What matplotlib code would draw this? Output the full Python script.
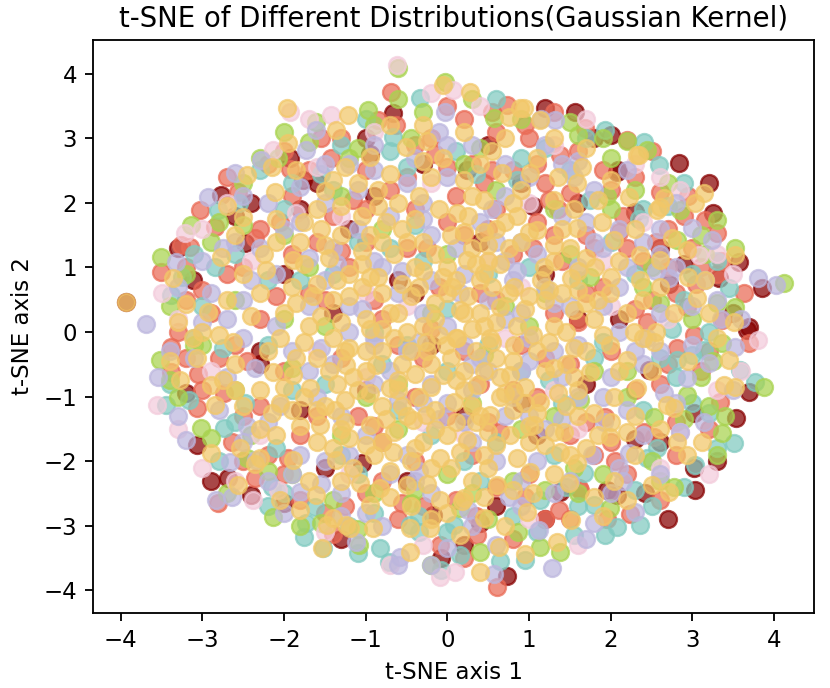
import numpy as np
import matplotlib
matplotlib.use("Agg")
import matplotlib.pyplot as plt

# point positions (t-SNE coordinates), one list per distribution
darkred_pts = [(-0.66, 3.39), (-1.93, 2.69), (-2.77, 2.12), (-2.48, 1.38), (-3.11, 0.80), (-3.93, 0.46),
               (1.19, 3.46), (1.56, 3.40), (2.00, 3.05), (2.84, 2.61), (2.08, 2.47), (3.20, 2.30),
               (2.30, 1.85), (3.25, 1.84), (3.57, 1.08), (3.85, 0.68), (3.33, 0.83), (3.69, 0.07),
               (2.72, 0.75), (-3.07, -1.75), (-2.69, -2.26), (-2.40, -2.53), (-0.08, -3.50), (-0.18, -2.84),
               (0.73, -3.77), (1.38, -2.48), (1.95, -2.45), (2.08, -2.53), (2.42, -2.49), (3.03, -2.45),
               (3.02, -2.11), (3.54, -1.33), (3.02, -1.26), (3.69, -0.93), (3.67, 0.03), (2.47, -0.59),
               (-1.6, 2.3), (-0.9, 2.1), (-1.2, 1.6), (-0.3, 2.6), (0.5, 2.9), (0.9, 2.3), (1.6, 2.0),
               (-2.0, 0.9), (-1.4, 0.3), (-0.6, 0.8), (0.4, 1.4), (1.2, 0.9), (2.1, 0.2), (-2.3, -0.5),
               (-1.0, -0.9), (0.2, -1.3), (1.1, -1.6), (-1.5, -2.1), (-0.5, -2.3), (0.6, -2.7), (2.6, -1.7),
               (-2.6, 1.8), (-0.2, -0.2), (1.7, -0.8), (-1.8, -1.2), (0.24, 2.5), (-1.77, 2.35), (2.09, 2.5),
               (-1.05, -2.03), (-1.0, 3.0), (1.8, 3.0), (2.6, 1.3), (3.5, 0.3), (-3.3, 1.3), (-2.3, -0.3),
               (1.2, -2.9), (2.7, -2.9), (-2.9, -2.3), (-1.3, -3.2), (0.2, -3.3), (3.3, -2.0), (-0.4, 0.6),
               (0.9, -1.1), (-1.8, 1.9), (1.6, 0.2), (2.9, 1.05), (-2.4, 2.0), (-3.2, -0.95), (-2.0, -2.65),
               (0.4, -2.95), (2.3, -1.65), (-0.95, 2.75), (1.05, 1.95)]

salmon_pts = [(-0.69, 3.71), (-0.85, 3.28), (-0.63, 3.20), (-1.43, 2.69), (-1.93, 2.53), (-2.57, 2.17),
              (-3.03, 1.89), (-2.85, 1.62), (-3.26, 1.34), (-3.15, 1.32), (-3.51, 0.93), (0.73, 3.51),
              (1.68, 3.16), (2.20, 2.97), (1.38, 2.74), (2.60, 2.17), (3.15, 1.73), (3.30, 1.53),
              (3.63, 0.60), (3.36, 0.18), (2.93, 0.38), (-3.39, -0.23), (-3.39, -0.62), (-3.07, -1.17),
              (-2.74, -0.95), (-2.64, -1.70), (-2.36, -2.26), (-2.81, -2.65), (-1.40, -3.12), (-0.09, -3.30),
              (0.61, -3.95), (0.36, -3.15), (1.37, -2.76), (1.63, -2.45), (2.24, -2.81), (1.61, -2.42),
              (3.34, -1.09), (3.70, -0.17), (3.02, -0.05), (2.81, -0.25), (2.53, -1.63), (2.41, -1.55),
              (1.93, -1.32), (-0.2, 3.0), (0.2, 3.3), (0.6, 3.1), (1.0, 3.0), (1.6, 2.8), (1.9, 2.5),
              (2.3, 2.4), (0.3, 2.6), (0.8, 2.5), (1.2, 2.3), (-0.5, 2.4), (-1.0, 2.5), (-1.9, 2.1),
              (-2.3, 1.6), (-1.6, 1.4), (-1.0, 1.9), (-0.4, 1.9), (0.1, 2.1), (0.6, 1.9), (1.1, 1.7),
              (1.7, 1.5), (2.2, 1.3), (2.7, 1.0), (3.0, 1.3), (2.5, 0.5), (1.9, 0.7), (1.4, 1.1),
              (0.8, 1.2), (0.2, 1.5), (-0.5, 1.3), (-1.2, 1.0), (-1.9, 1.2), (-2.7, 0.9), (-2.9, 0.3),
              (-2.3, 0.2), (-1.7, 0.6), (-0.9, 0.5), (-0.1, 0.7), (0.6, 0.5), (1.3, 0.3), (2.0, -0.3),
              (2.6, -0.8), (3.1, -0.6), (1.5, -0.5), (0.9, -0.2), (0.2, -0.3), (-0.6, -0.2), (-1.3, -0.4),
              (-2.0, -0.6), (-2.8, -0.4), (-2.5, -1.3), (-1.8, -1.6), (-1.1, -1.3), (-0.4, -1.0),
              (0.4, -0.8), (1.1, -1.0), (1.8, -1.9), (2.2, -2.2), (1.0, -2.2), (0.3, -1.9), (-0.4, -2.0),
              (-1.0, -2.5), (-1.8, -2.6), (-0.6, -2.9), (0.1, -2.6), (0.8, -3.2), (2.8, -1.4), (3.3, 0.9),
              (-2.2, 2.6), (-1.3, 3.0), (2.9, 1.8), (-3.0, -0.9), (0.5, -1.4), (-0.8, -1.7), (1.5, -2.9),
              (0.0, 3.5), (1.3, 3.4), (-0.4, 2.9), (1.1, 2.6), (0.45, 2.3), (1.5, 2.15), (2.5, 2.8),
              (2.7, 1.6), (-2.0, 2.8), (-2.7, 2.4), (-2.5, 1.0), (-1.4, 1.8), (0.0, 1.7), (1.3, 1.5),
              (2.4, 1.1), (3.1, 1.0), (-3.2, 0.5), (-1.5, 0.5), (0.4, 0.6), (1.7, 0.6), (2.8, 0.6),
              (-2.6, -0.2), (-0.3, -0.4), (1.2, -0.4), (2.3, -0.9), (3.2, -1.5), (-3.2, -0.4), (-1.6, -1.3),
              (0.0, -1.3), (1.5, -1.6), (2.0, -1.7), (-2.2, -1.9), (-0.8, -2.3), (0.6, -2.4), (1.2, -2.9),
              (2.6, -2.6), (-1.5, -2.8), (0.2, -3.5), (-0.3, -2.7), (-2.0, -2.2), (-3.2, 1.0), (-0.8, 0.2),
              (0.8, -0.9), (1.8, 1.3), (-1.0, 1.4), (0.5, 1.6), (2.0, 2.2), (-1.7, 2.5),
              (-0.7, 2.2), (0.0, 2.55), (0.55, 2.5), (1.35, 1.9), (2.15, 1.8), (2.55, 1.4), (-2.05, 1.7),
              (-1.3, 1.25), (-0.25, 1.3), (1.05, 1.3), (3.35, 1.1), (-3.0, 0.65), (-2.1, 0.55), (-0.2, 0.05),
              (1.6, 0.15), (2.3, 0.35), (3.2, -0.3), (-2.3, -1.15), (-0.9, -1.45), (0.65, -1.55), (1.7, -1.4),
              (2.8, -1.9), (-2.5, -2.0), (-1.25, -2.7), (0.35, -2.85), (1.95, -2.9), (-3.3, 0.0), (2.95, 2.1),
              (0.95, 3.2), (-1.55, 3.0), (2.45, 0.15), (2.1, 1.55), (1.25, 2.05), (-0.15, 2.75),
              (-1.15, 2.05), (-2.35, 1.45), (-2.45, -0.45), (-1.95, -1.95), (-0.55, -2.65), (0.95, -2.55),
              (2.05, -2.0), (2.7, -0.5), (3.05, 0.75), (-3.05, -0.65), (0.55, 3.4)]

teal_pts = [(-1.30, 2.89), (-2.81, 1.89), (-3.38, 0.57), (1.93, 3.12), (2.41, 2.94), (2.59, 2.58),
            (3.45, 0.68), (-3.45, -1.13), (-3.17, -1.05), (-2.48, -1.10), (-2.74, -1.49), (-1.73, -2.96),
            (-1.75, -3.18), (-1.52, -3.34), (-0.82, -3.35), (-0.72, -3.56), (-0.08, -3.69), (-1.09, -3.42),
            (-0.46, -2.99), (-1.62, -2.71), (0.95, -3.53), (1.55, -3.15), (1.93, -3.15), (2.08, -3.02),
            (2.36, -2.99), (1.80, -2.68), (3.03, -2.06), (3.51, -1.72), (3.77, -0.78), (3.58, -0.59),
            (3.14, -0.28), (2.81, -0.43), (2.57, -1.80), (1.67, -2.19), (1.13, -2.60), (0.16, -3.45),
            (0.08, -2.99), (-0.34, 3.62), (-0.67, 3.02), (-2.0, 1.9), (-1.4, 2.2), (-0.7, 2.8), (0.1, 2.8),
            (0.9, 2.7), (1.5, 2.5), (2.4, 1.9), (-2.6, 1.2), (-1.8, 0.8), (-1.1, 1.4), (-0.3, 1.1),
            (0.5, 0.9), (1.6, 0.8), (2.3, 0.9), (2.9, 0.5), (-3.1, -0.1), (-2.2, -0.2), (-1.5, -0.8),
            (-0.8, -0.5), (0.0, -0.6), (0.9, -0.6), (1.8, -0.4), (2.4, -1.2), (-2.1, -1.8), (-1.3, -1.9),
            (-0.2, -1.6), (0.6, -1.7), (1.3, -1.9), (-0.9, -2.8), (0.4, -2.3), (2.9, -2.4),
            (-2.3, 2.5), (-1.0, 3.3), (0.6, 3.6), (1.7, 3.0), (2.9, 2.3), (3.3, 1.1), (-3.1, 1.2),
            (-2.2, 0.8), (-0.7, 1.3), (1.0, 1.0), (2.0, 1.4), (3.2, 0.0), (-3.4, -0.8), (-1.9, -0.9),
            (-0.5, -0.2), (0.5, -0.2), (1.4, -1.1), (3.0, -1.1), (-2.8, -2.0), (-2.2, -2.7), (-1.2, -3.0),
            (0.0, -3.1), (1.1, -3.1), (2.5, -2.7), (3.3, -1.8), (-0.9, 0.0), (0.2, -2.0), (1.6, -2.7),
            (-0.6, -1.2), (2.6, -0.4), (-2.55, 2.0), (-1.55, 2.45), (0.35, 2.45), (1.2, 2.85), (2.7, 1.95),
            (3.0, 0.9), (-3.0, 0.4), (-1.4, 0.9), (0.0, 0.35), (1.9, -0.15), (2.8, -0.7), (-2.6, -1.4),
            (-1.1, -2.2), (0.8, -2.85), (2.3, -2.45), (-0.35, -3.1), (-2.0, -2.5), (3.2, -1.25),
            (1.25, -0.75), (-0.4, 1.65), (2.75, 0.05), (2.35, 1.75), (0.85, 2.35), (-0.5, 2.55),
            (-1.9, 2.3), (-2.85, 1.0), (-2.75, -0.25), (-2.15, -2.4), (-0.35, -2.85), (1.45, -2.4),
            (2.45, -1.95), (3.0, -0.35), (-3.25, 0.85), (0.65, -3.55), (1.75, 2.05)]

green_pts = [(-0.60, 4.08), (-0.97, 3.43), (-1.61, 3.25), (-1.70, 2.94), (-2.07, 2.69), (-3.14, 1.66),
             (-3.51, 1.16), (0.57, 3.31), (1.50, 3.25), (2.45, 2.82), (2.85, 1.89), (3.30, 1.73),
             (2.81, 1.42), (3.52, 1.30), (4.12, 0.76), (3.52, 0.38), (-3.52, -0.43), (-3.02, -1.49),
             (-2.90, -1.64), (-2.13, -2.87), (-1.08, -3.30), (-0.44, -2.65), (0.40, -3.41), (0.86, -3.10),
             (1.13, -3.33), (1.38, -3.41), (1.99, -2.73), (0.16, -2.73), (2.78, -2.40), (3.30, -1.91),
             (3.36, -1.57), (3.20, -1.14), (2.93, -0.98), (3.88, -0.85), (3.36, -0.17), (2.53, -1.32),
             (1.63, -1.05), (-0.03, 3.87), (-1.2, 2.7), (-0.3, 3.4), (0.9, 3.3), (2.0, 2.7), (-2.5, 2.3),
             (-2.0, 1.5), (-0.8, 1.6), (0.6, 2.2), (1.5, 1.2), (2.4, 0.7), (-2.6, 0.5), (-1.5, 0.1),
             (-0.2, 0.3), (1.0, 0.1), (2.2, -0.6), (-2.6, -0.9), (-1.9, -2.2), (-1.0, -1.0), (0.3, -1.1),
             (1.3, -1.3), (0.8, -2.3), (-0.6, -1.5), (-2.7, -2.5), (-1.4, -2.6), (2.0, 1.9), (3.0, 0.2),
             (-3.2, 0.9), (0.0, -2.2), (1.9, -2.2), (-2.0, 3.1), (-0.6, 3.6), (1.9, 3.0), (2.7, 2.3),
             (3.1, 1.5), (-2.9, 1.4), (-1.3, 2.1), (0.2, 2.6), (1.3, 1.9), (2.5, 1.0), (-3.4, 0.4),
             (-2.0, 0.2), (-0.6, -0.8), (0.7, 0.4), (1.8, -0.6), (3.1, -0.7), (-3.3, -1.0), (-2.4, -1.6),
             (-0.9, -2.5), (0.5, -2.9), (1.6, -2.5), (2.5, -2.0), (3.4, -1.3), (-1.8, -3.0), (-0.2, -3.6),
             (0.9, -1.5), (-1.3, -1.6), (1.2, 0.6), (-2.3, 2.7), (-0.9, 3.2), (0.3, 3.6), (1.6, 3.05),
             (2.3, 2.2), (3.15, 1.2), (-2.8, 1.7), (-1.7, 1.0), (0.0, 1.2), (1.75, 0.85), (3.3, 0.45),
             (-3.1, -0.2), (-1.9, -0.55), (0.45, -0.35), (2.2, -1.0), (-2.2, -2.15), (-0.4, -2.45),
             (1.2, -2.45), (2.6, -2.3), (-1.1, -3.05), (2.6, 0.45), (1.95, 2.1), (0.4, 2.85), (-1.1, 2.85),
             (-2.5, 1.65), (-3.0, -0.2), (-2.45, -1.95), (-1.55, -2.95), (0.3, -2.5), (1.55, -2.1),
             (2.9, -1.35), (3.25, -0.45), (-0.45, 3.0), (2.2, 2.95), (-3.4, -0.75)]

pink_pts = [(-0.62, 4.13), (-1.42, 3.36), (-1.93, 3.40), (2.85, 2.20), (-3.21, 1.53), (-3.56, -1.13),
            (-2.38, -2.60), (-2.07, -2.45), (-0.09, -3.79), (0.09, -3.72), (3.81, -0.12), (0.07, 3.74),
            (2.85, -1.55), (3.08, 1.19), (-2.13, 2.82), (-1.60, 2.55), (-1.85, 1.84), (-0.9, 3.1),
            (0.4, 3.5), (1.3, 2.9), (2.3, 2.6), (-2.4, 1.1), (-1.3, 1.8), (-0.2, 2.3), (1.0, 2.0),
            (1.9, 1.1), (2.7, 0.2), (-2.9, -0.6), (-1.6, -0.3), (-0.5, 0.4), (0.7, -0.1), (1.6, -1.5),
            (-2.3, -1.6), (-1.2, -2.2), (0.2, -1.6), (1.0, -2.9), (-0.3, -3.3), (2.6, -2.1), (3.3, -0.9),
            (-3.3, 0.2), (2.0, 0.4), (-1.0, -0.7), (0.5, 1.1), (3.3, 1.2), (-3.0, -2.1),
            (-1.7, 3.3), (-0.2, 3.7), (1.7, 3.3), (2.6, 2.4), (-2.7, 2.0), (-3.5, 0.6), (-3.0, 1.6),
            (2.4, 1.7), (3.5, 0.9), (3.6, -0.6), (3.2, -2.2), (1.6, -3.3), (-0.7, -3.6), (-1.5, -3.1),
            (-2.6, -2.3), (-3.3, -1.5), (-1.0, 0.6), (0.9, 0.7), (-0.3, -1.4), (1.3, -0.9)]

lavender_pts = [(-1.61, 3.12), (-1.73, 2.82), (-2.28, 2.66), (-2.60, 2.46), (-2.93, 2.09), (-3.32, 1.08),
                (-3.69, 0.13), (3.00, 1.61), (3.24, 1.42), (3.81, 0.83), (4.03, 0.73), (3.15, 0.80),
                (2.71, 0.83), (-3.54, -0.70), (-3.20, -1.67), (-2.66, -2.01), (-2.34, -1.98), (-2.83, -2.60),
                (-2.64, -2.56), (-0.58, -3.48), (-1.12, -3.25), (-1.80, -2.48), (0.57, -3.74), (1.28, -3.66),
                (1.12, -3.07), (2.30, -2.79), (1.80, -2.96), (3.14, -1.39), (3.20, -0.48), (3.52, -0.23),
                (2.93, -0.71), (2.22, -1.88), (1.92, -1.39), (1.77, -1.91), (-0.03, 3.40), (1.32, 3.28),
                (-1.5, 2.6), (-0.4, 2.7), (0.7, 2.6), (1.8, 2.2), (-2.2, 2.0), (-1.1, 2.2), (0.0, 2.4),
                (1.0, 2.4), (2.6, 1.6), (-1.8, 1.7), (-0.7, 1.8), (0.4, 1.7), (1.4, 1.8), (2.1, 1.6),
                (-2.6, 1.4), (-1.4, 1.3), (-0.2, 1.5), (0.9, 1.4), (1.9, 1.3), (2.6, 1.2), (-2.1, 0.9),
                (-0.9, 1.1), (0.2, 0.9), (1.2, 0.7), (2.2, 1.0), (-3.0, 1.1), (-2.9, 0.6), (-1.7, 0.4),
                (-0.6, 0.6), (0.5, 0.5), (1.5, 0.4), (2.6, 0.3), (3.3, 0.5), (-2.5, -0.1), (-1.2, 0.0),
                (0.0, 0.1), (1.0, -0.1), (2.1, 0.0), (3.0, -0.2), (-3.1, -0.4), (-1.9, -0.3), (-0.7, -0.6),
                (0.4, -0.4), (1.4, -0.7), (2.4, -0.5), (-2.8, -1.2), (-1.6, -1.0), (-0.3, -1.1), (0.8, -1.0),
                (1.9, -1.0), (2.8, -1.1), (-2.2, -1.4), (-1.0, -1.6), (0.2, -1.4), (1.2, -1.5), (2.4, -1.6),
                (-1.5, -2.0), (-0.5, -1.9), (0.6, -2.0), (1.5, -2.3), (-2.2, -2.3), (-1.3, -2.5),
                (-0.2, -2.5), (0.9, -2.7), (2.0, -2.5), (-0.8, -3.0), (0.3, -3.0), (-0.3, 0.3), (0.3, -0.9),
                (0.7, 1.1), (-0.9, -0.2), (1.6, -0.2), (-1.5, 0.8), (0.9, 0.3), (-0.4, -2.3), (1.1, -2.0),
                (-2.4, 0.8), (2.8, 2.0), (-3.4, -0.3), (-1.2, 2.6), (-0.9, 2.9), (0.3, 2.9), (1.4, 2.6),
                (2.2, 2.5), (-2.5, 2.1), (-1.5, 2.0), (-0.3, 2.0), (0.7, 2.1), (1.7, 1.7), (2.4, 1.4),
                (-2.3, 1.3), (-1.1, 1.6), (0.1, 1.3), (1.1, 1.2), (2.8, 1.0), (-3.3, 0.7), (-2.5, 0.5),
                (-1.2, 0.4), (-0.2, 0.8), (0.8, 0.8), (1.9, 0.4), (-2.1, 0.1), (-0.9, -0.1), (0.2, -0.2),
                (1.3, -0.3), (2.6, -0.3), (-2.7, -0.7), (-1.4, -0.5), (-0.2, -0.8), (0.9, -0.6), (2.0, -0.7),
                (-2.5, -1.7), (-1.3, -1.3), (0.0, -1.1), (1.0, -1.3), (2.2, -1.2), (-1.8, -1.9), (-0.7, -2.2),
                (0.3, -1.7), (1.3, -2.5), (2.6, -2.2), (-1.0, -2.8), (0.6, -3.3), (1.7, -3.2), (-2.0, -2.8),
                (-0.5, 2.3), (1.2, 2.9), (3.5, -0.9), (3.6, 0.2), (-3.3, -1.3), (-0.6, -3.6), (0.5, -0.6),
                (-0.5, -0.3), (0.7, 0.2), (-1.7, -0.6), (1.6, 1.0), (-0.8, 1.0),
                (-0.55, 0.95), (0.15, 0.6), (0.85, 0.95), (1.3, 0.45), (-1.05, 0.35), (-0.35, -0.15),
                (0.3, -0.5), (1.0, -0.45), (-1.55, -0.25), (-0.9, -0.8), (-0.1, -1.35), (0.7, -1.3),
                (1.6, -1.0), (-1.2, -1.9), (-0.35, -2.15), (0.9, -2.3), (-1.7, 1.15), (-0.3, 1.75),
                (0.55, 1.9), (1.8, 1.4), (-2.35, -0.55), (2.3, -0.3), (2.1, 0.7), (-2.0, 1.6), (0.0, 2.9),
                (-0.9, 2.5), (1.55, 2.4), (-1.9, -2.2), (2.1, -2.1), (0.0, -3.35), (-2.7, 0.2), (3.0, 0.4),
                (-0.6, -1.05), (0.6, 1.4), (-1.35, 1.05), (1.4, -1.35), (-2.05, -1.15), (2.65, -0.95),
                (0.25, -2.75), (-1.55, -2.35), (2.45, -0.1), (2.55, 0.95), (1.6, 2.65), (-0.1, 3.1),
                (-1.8, 2.25), (-2.75, 1.3), (-3.0, 0.15), (-2.45, -1.45), (-1.3, -2.85), (0.75, -2.55),
                (2.15, -2.3), (2.85, -1.55), (3.35, 0.2), (-0.2, -3.6), (1.15, 3.3)]

yellow_pts = [(-1.97, 3.46), (-1.22, 3.36), (-1.36, 3.12), (-1.95, 2.92), (-2.46, 2.43), (-3.36, 0.83),
              (-3.93, 0.46), (0.28, 3.71), (-0.05, 3.82), (0.89, 3.46), (2.32, 2.74), (3.14, 2.15),
              (3.03, 1.99), (2.60, 1.93), (2.93, 1.27), (3.52, 1.19), (3.16, 0.80), (3.06, 0.52),
              (2.77, 0.29), (3.51, 0.15), (-3.27, -0.75), (-2.84, -1.13), (-2.90, -0.82), (-2.89, -1.87),
              (-2.54, -1.80), (-2.57, -2.37), (-2.05, -2.60), (-1.54, -3.34), (-1.48, -2.99), (-1.19, -3.03),
              (-0.91, -3.03), (-0.46, -3.41), (-0.46, -3.03), (-0.21, -3.03), (-1.61, -2.53), (0.40, -3.72),
              (0.95, -3.43), (1.34, -3.25), (1.51, -2.91), (2.71, -2.48), (2.51, -2.37), (2.93, -1.91),
              (3.12, -1.70), (2.81, -1.70), (2.78, -1.18), (3.52, -0.85), (3.39, -0.82), (3.45, -0.43),
              (2.04, -1.01), (1.99, -1.63), (1.49, -2.33), (0.16, -3.15), (0.63, -3.33), (0.18, -2.61),
              (-0.51, 2.86), (-0.95, 2.71), (-1.50, 2.19), (-2.11, 2.17), (-2.50, 1.78), (-2.77, 1.16),
              (-2.22, 0.96), (-1.89, 1.11), (-3.20, 0.44), (-2.93, 0.31), (0.94, 3.46), (1.13, 3.28),
              (0.75, 3.33), (2.35, 2.74), (2.57, 1.89), (2.65, 2.07), (2.22, 2.09), (1.59, 2.30),
              (1.01, 2.46), (0.67, 2.46), (0.45, 2.04), (0.12, 1.84), (1.10, 1.58), (1.59, 1.61),
              (1.89, 1.70), (2.04, 1.42), (2.36, 1.19), (2.61, 1.11), (1.81, 1.00), (1.52, 0.83),
              (1.18, 1.00), (0.65, 1.06), (0.24, 1.11), (0.45, 0.91), (0.82, 0.70), (1.20, 0.49),
              (1.55, 0.34), (1.99, 0.60), (2.36, 0.80), (2.20, 0.29), (0.65, 0.39), (0.16, 0.34),
              (0.06, 0.70), (-3.11, -0.09), (-2.62, -0.16), (-3.07, -0.40), (-2.13, -0.62), (-1.89, -0.67),
              (-1.68, -0.87), (-1.24, -0.51), (-0.87, -0.51), (-0.70, -0.87), (-2.05, -1.10), (-1.38, -1.21),
              (-0.95, -1.44), (-0.42, -1.36), (-1.21, -1.64), (-1.56, -1.44), (-1.89, -1.98), (-1.36, -1.98),
              (-1.07, -2.33), (-0.82, -2.42), (-0.50, -2.37), (-0.09, -2.60), (-0.95, -2.68), (-1.40, -2.88),
              (-1.24, -2.99), (-0.26, -0.16), (-0.05, -0.67), (-0.26, -1.29), (-0.09, -1.95), (-0.67, -1.86),
              (-0.02, -0.20), (0.12, -0.09), (0.52, -0.09), (0.82, -0.20), (1.55, -0.25), (1.99, -0.20),
              (2.29, 0.00), (2.53, -0.16), (2.20, -0.43), (2.32, -0.87), (2.69, -1.13), (1.75, -0.62),
              (1.31, -0.56), (0.77, -0.67), (0.36, -0.82), (0.08, -1.09), (0.52, -1.29), (1.06, -1.44),
              (1.38, -1.86), (1.43, -1.55), (1.84, -1.60), (2.04, -2.30), (1.59, -2.03), (1.01, -2.17),
              (0.61, -2.37), (0.20, -2.57), (0.45, -2.88), (0.98, -2.79), (0.24, -1.67), (0.77, -1.60),
              (0.82, -0.93), (1.13, -1.09), (-1.2, 0.9), (-0.8, 0.6), (-0.4, 1.0), (0.0, 0.6), (0.4, 0.3),
              (-1.0, 0.2), (-0.5, 0.0), (0.1, -0.1), (0.6, -0.4), (-0.2, -0.5), (-0.6, -0.9), (0.2, -0.9),
              (-1.1, -0.9), (-1.4, -0.1), (-1.7, 0.1), (-2.0, 0.3), (-2.3, -0.9), (-1.9, -1.2), (-0.3, 1.4),
              (0.3, 1.3), (-0.8, 1.4), (-1.3, 1.5), (-1.8, 1.4), (-0.6, 2.0), (-0.1, 1.9), (0.6, 1.6),
              (-1.1, 2.3), (-0.2, 2.4), (0.4, 2.6), (-0.7, 3.2), (0.2, 3.1), (1.3, 3.0), (1.0, -1.7),
              (-0.9, -1.9), (0.5, -2.1), (-0.2, -2.1), (-2.3, 0.6), (-2.6, -0.5), (-3.0, 0.0), (1.6, -0.9),
              (2.4, -0.1), (2.6, 0.7), (-0.3, 0.1), (0.4, 0.8), (0.8, -1.2), (-1.6, -0.4), (1.3, 0.1),
              (0.9, 1.4), (-0.5, -1.3), (-1.4, 0.5), (-2.1, 1.4), (-1.6, 1.9), (0.1, -1.4), (-1.3, -2.3),
              (-0.2, -2.9), (-0.7, 0.3), (0.0, 1.0), (-0.8, -0.3), (0.4, -1.3), (1.2, -0.6), (-1.9, 0.7),
              (-2.7, 0.5), (-2.3, -1.5), (1.8, 0.2), (1.5, 1.3), (2.1, 1.1),
              (-1.75, 1.05), (-1.45, 1.15), (-1.05, 1.25), (-0.65, 1.2), (-0.15, 1.2), (0.2, 1.55),
              (0.75, 1.3), (1.3, 1.35), (1.7, 1.15), (2.0, 0.85), (-1.85, 0.45), (-1.2, 0.55), (-0.95, 0.85),
              (-0.55, 0.75), (-0.15, 0.45), (0.25, 0.55), (0.6, 0.15), (1.0, 0.55), (1.4, 0.6), (1.7, 0.45),
              (-2.4, 0.25), (-1.55, 0.25), (-1.2, -0.25), (-0.8, 0.05), (-0.45, -0.3), (0.3, 0.05),
              (0.85, 0.1), (1.1, -0.3), (1.45, 0.0), (1.9, -0.05), (-2.2, -0.3), (-1.75, -0.15),
              (-1.45, -0.6), (-1.0, -0.6), (-0.4, -0.65), (0.05, -0.4), (0.45, -0.6), (0.95, -0.85),
              (1.35, -0.95), (1.8, -1.25), (-2.5, -1.15), (-1.75, -1.0), (-1.25, -1.05), (-0.8, -1.15),
              (-0.2, -0.85), (0.3, -1.15), (0.65, -1.0), (1.1, -1.25), (1.6, -1.3), (2.3, -1.3),
              (-2.1, -1.6), (-1.6, -1.7), (-1.0, -1.75), (-0.65, -1.55), (-0.3, -1.7), (0.15, -1.85),
              (0.6, -1.75), (1.2, -1.75), (1.7, -1.8), (2.3, -1.9), (-1.7, -2.3), (-1.15, -2.1),
              (-0.7, -2.15), (-0.25, -2.35), (0.3, -2.3), (0.8, -2.45), (1.3, -2.2), (1.8, -2.55),
              (-2.3, -1.95), (0.0, -2.8), (-1.3, 1.95), (-0.85, 1.95), (-0.35, 2.1), (0.3, 2.1), (0.8, 2.0),
              (1.3, 2.05), (1.85, 2.05), (-1.85, 2.5), (-1.25, 2.55), (-0.7, 2.45), (-0.05, 2.7), (0.55, 2.8),
              (1.1, 2.7), (1.65, 2.55), (2.0, 2.35), (-0.3, 3.2), (0.7, 3.0), (-2.1, 1.75), (-2.6, 1.5),
              (-1.55, 1.6), (-3.4, -0.45), (-3.3, 0.15), (-2.75, -0.75), (-2.35, -2.05), (3.2, 0.3),
              (2.95, 0.85), (3.3, -0.1), (2.95, -0.45), (2.6, -1.5), (2.2, -2.6), (-0.55, 1.6), (0.5, 1.35),
              (-0.05, 0.85), (-0.35, 0.7), (0.75, 0.6), (-1.0, -0.3), (-0.15, -1.2), (0.55, -0.15),
              (-0.6, 0.3), (0.2, 0.3), (-1.35, 0.8), (1.15, 0.8), (1.6, 0.95), (-0.1, -0.05), (0.65, -0.7),
              (-0.55, -1.15), (-1.35, -0.8), (1.05, -0.05), (-0.85, 0.85), (0.35, 1.05),
              (-1.6, 0.75), (-1.05, 0.7), (-0.45, 0.55), (0.1, 0.8), (0.55, 0.7), (1.25, 0.65), (1.85, 0.5),
              (-2.05, -0.1), (-1.3, 0.15), (-0.65, -0.1), (-0.15, 0.2), (0.45, 0.1), (1.25, -0.15),
              (1.7, -0.3), (-1.85, -0.4), (-1.15, -0.7), (-0.55, -0.5), (0.2, -0.6), (0.8, -0.45),
              (1.45, -0.5), (-2.0, -0.85), (-1.5, -1.15), (-0.95, -0.95), (-0.35, -1.0), (0.35, -1.4),
              (0.95, -1.1), (1.45, -1.15), (2.0, -1.4), (-1.8, -1.45), (-1.25, -1.4), (-0.75, -1.35),
              (0.0, -1.6), (0.5, -1.55), (1.3, -1.55), (-1.4, -1.8), (-0.8, -1.7), (-0.45, -2.0),
              (0.05, -2.1), (0.85, -1.95), (1.5, -1.9), (-1.5, 1.35), (-0.95, 1.5), (-0.5, 1.4), (0.05, 1.5),
              (0.45, 1.55), (1.0, 1.55), (1.4, 1.6), (-1.75, 1.7), (-1.05, 1.8), (-0.4, 1.75), (0.25, 1.8),
              (0.85, 1.8), (1.55, 1.9), (-1.4, 2.35), (-0.85, 2.2), (-0.3, 2.65), (0.2, 2.35), (0.9, 2.2),
              (1.35, 2.4), (-2.5, 0.9), (-2.8, -0.05), (-2.6, -0.9), (-2.7, 1.95), (-2.25, 1.2), (2.1, -0.6),
              (2.5, -0.6), (2.2, -1.55), (2.55, 0.0), (2.75, 1.45), (2.3, 1.6), (-0.7, -2.55), (-0.45, -2.7),
              (0.45, -2.55), (1.05, -2.5), (-1.8, -2.75), (0.7, -3.0), (1.9, -2.85), (-2.15, 2.55),
              (-0.25, 2.95), (1.7, 2.85), (-0.95, 0.05), (-0.25, -0.3), (0.35, -0.3), (0.95, 0.35),
              (-0.6, -0.75), (0.1, -0.75), (0.7, -0.95), (-1.25, -0.3), (-0.3, 0.95), (0.5, 1.1),
              (-0.75, 1.7), (0.7, 1.7), (-1.6, -1.2), (1.0, -1.45), (-0.15, -1.5), (-1.05, 1.05), (1.3, 1.1),
              (-0.4, -1.8), (0.45, -1.9), (-1.3, -1.5), (1.55, -0.7), (1.6, 0.65), (-1.65, 0.55),
              (-2.15, -1.25), (2.4, 0.5)]

# drawing order (bottom to top) and colours
groups = [darkred_pts, salmon_pts, teal_pts, green_pts, pink_pts, lavender_pts, yellow_pts]
colors = ['#870000', '#EA6A55', '#80CAC0', '#A8D34E', '#F3CBDB', '#BCB6DE', '#F2C768']

fig = plt.figure(figsize=(830 / 165, 688 / 165), dpi=165)
ax = fig.add_axes([93 / 830, 1 - 613 / 688, (814 - 93) / 830, (613 - 40) / 688])

for pts, c in zip(groups, colors):
    xs, ys = zip(*pts)
    ax.scatter(xs, ys, color=c, alpha=0.72, s=55)

ax.set_xlim(-4.34, 4.49)
ax.set_ylim(-4.35, 4.52)
ax.set_title('t-SNE of Different Distributions(Gaussian Kernel)')
ax.set_xlabel('t-SNE axis 1')
ax.set_ylabel('t-SNE axis 2')

fig.savefig('out.png', dpi=165)
